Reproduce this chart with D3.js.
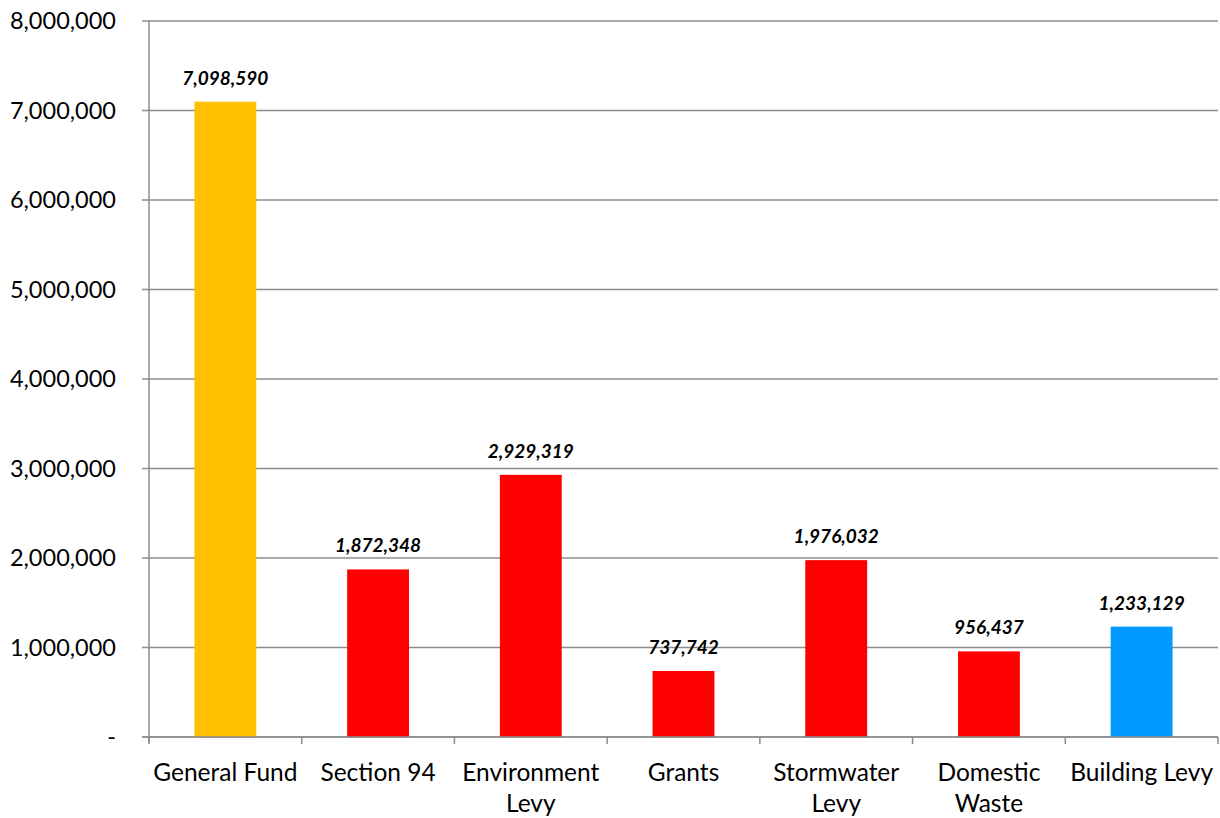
<!DOCTYPE html>
<html><head><meta charset="utf-8">
<script src="https://cdn.jsdelivr.net/npm/d3@7"></script>
<style>body{margin:0;background:#fff}svg{display:block}</style>
</head><body>
<svg id="c" width="1220" height="818"></svg>
<script>
const categories = ["General Fund","Section 94","Environment Levy","Grants","Stormwater Levy","Domestic Waste","Building Levy"];
const categoryLines = [["General Fund"],["Section 94"],["Environment","Levy"],["Grants"],["Stormwater","Levy"],["Domestic","Waste"],["Building Levy"]];
const values = [7098590,1872348,2929319,737742,1976032,956437,1233129];
const barColors = ["#FFC000","#FF0000","#FF0000","#FF0000","#FF0000","#FF0000","#0099FF"];
const yTicks = [0,1000000,2000000,3000000,4000000,5000000,6000000,7000000,8000000];

const svg = d3.select("#c");
const L=149, R=1218, T=21, B=737;
const font = "Lato, 'Open Sans', sans-serif";
const x = d3.scaleBand().domain(categories).range([L,R]).paddingInner(0.595).paddingOuter(0.2975);
const y = d3.scaleLinear().domain([0,8000000]).range([B,T]);
const fmt = d3.format(",");

svg.append("g").selectAll("line").data(yTicks).join("line")
  .attr("x1",L-7).attr("x2",R).attr("y1",d=>y(d)).attr("y2",d=>y(d))
  .attr("stroke","#8c8c8c").attr("stroke-width",1.5);
svg.append("line").attr("x1",L).attr("x2",L).attr("y1",T).attr("y2",B+6).attr("stroke","#8c8c8c").attr("stroke-width",1.5);
svg.append("g").selectAll("text").data(yTicks).join("text")
  .attr("x",116).attr("y",d=>y(d)+8).attr("text-anchor","end")
  .attr("font-family",font).attr("font-size",23.5).attr("fill","#000")
  .text(d=>d===0?"-":fmt(d));
const step = (R-L)/categories.length;
svg.append("g").selectAll("line").data(d3.range(categories.length+1)).join("line")
  .attr("x1",i=>L+i*step).attr("x2",i=>L+i*step).attr("y1",B).attr("y2",B+7)
  .attr("stroke","#8c8c8c").attr("stroke-width",1.5);
svg.append("g").selectAll("rect").data(values).join("rect")
  .attr("x",(d,i)=>x(categories[i])).attr("width",x.bandwidth())
  .attr("y",d=>y(d)).attr("height",d=>B-y(d)).attr("fill",(d,i)=>barColors[i]);
svg.append("line").attr("x1",L-7).attr("x2",R).attr("y1",B).attr("y2",B).attr("stroke","#8c8c8c").attr("stroke-width",1.5);
svg.append("g").selectAll("text").data(values).join("text")
  .attr("x",(d,i)=>x(categories[i])+x.bandwidth()/2).attr("y",d=>y(d)-17)
  .attr("text-anchor","middle").attr("font-family",font).attr("font-size",19)
  .attr("font-weight","bold").attr("font-style","italic").attr("fill","#000")
  .text(d=>fmt(d));
const cl = svg.append("g").selectAll("text").data(categoryLines).join("text")
  .attr("x",(d,i)=>x(categories[i])+x.bandwidth()/2).attr("y",781)
  .attr("text-anchor","middle").attr("font-family",font).attr("font-size",24.5).attr("fill","#000");
cl.each(function(lines){
  const t=d3.select(this);
  lines.forEach((s,j)=>t.append("tspan").attr("x",t.attr("x")).attr("dy",j===0?0:31).text(s));
});
</script>
</body></html>
